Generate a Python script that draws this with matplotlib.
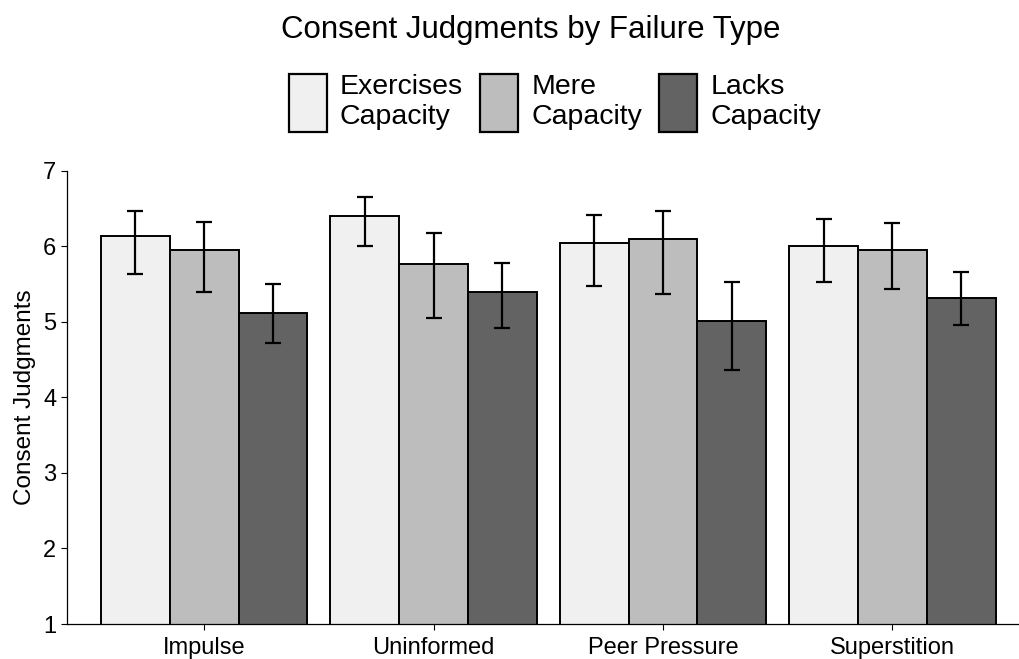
import matplotlib.pyplot as plt
import numpy as np
from matplotlib.patches import Patch

plt.rcParams['font.family'] = ['Liberation Sans', 'DejaVu Sans']

categories = ['Impulse', 'Uninformed', 'Peer Pressure', 'Superstition']
conditions = ['Exercises\nCapacity', 'Mere\nCapacity', 'Lacks\nCapacity']

# mean consent judgments per failure type
exercises = [6.14, 6.40, 6.04, 6.00]
mere = [5.95, 5.77, 6.09, 5.95]
lacks = [5.12, 5.39, 5.01, 5.32]

# confidence interval bounds
exercises_lo = [5.63, 6.00, 5.48, 5.53]
exercises_hi = [6.47, 6.65, 6.42, 6.36]
mere_lo = [5.40, 5.05, 5.37, 5.44]
mere_hi = [6.32, 6.17, 6.47, 6.31]
lacks_lo = [4.72, 4.92, 4.36, 4.96]
lacks_hi = [5.50, 5.78, 5.53, 5.66]

colours = ['#f0f0f0', '#bdbdbd', '#636363']

means = [exercises, mere, lacks]
lows = [exercises_lo, mere_lo, lacks_lo]
highs = [exercises_hi, mere_hi, lacks_hi]

fig = plt.figure(figsize=(10.2, 6.59), dpi=100)
ax = fig.add_axes([0.0653, 0.0531, 0.9445, 0.6879])

x = np.arange(len(categories))
width = 0.3
for i in range(3):
    pos = x + (i - 1) * width
    m = np.array(means[i])
    err = [m - np.array(lows[i]), np.array(highs[i]) - m]
    ax.bar(pos, m, width=width, color=colours[i], edgecolor='black', linewidth=1.4, zorder=2)
    ax.errorbar(pos, m, yerr=err, fmt='none', ecolor='black', elinewidth=1.6,
                capsize=5.5, capthick=1.6, zorder=3)

ax.set_xlim(-0.6, 3.6)
ax.set_ylim(1, 7)
ax.set_xticks(x)
ax.set_xticklabels(categories, fontsize=17, color='black')
ax.set_yticks(range(1, 8))
ax.tick_params(axis='y', labelsize=17, colors='black', length=4, width=0.8)
ax.tick_params(axis='x', length=4, width=0.8, pad=5)
ax.set_ylabel('Consent Judgments', fontsize=17.5, labelpad=5)

for side in ['top', 'right']:
    ax.spines[side].set_visible(False)
for side in ['left', 'bottom']:
    ax.spines[side].set_linewidth(0.9)

fig.text(531 / 1020, 1 - 30 / 659, 'Consent Judgments by Failure Type',
         ha='center', va='center', fontsize=22.5)

handles = [Patch(facecolor=c, edgecolor='black', linewidth=1.6) for c in colours]
fig.legend(handles, conditions, loc='center', ncol=3, frameon=False,
           bbox_to_anchor=(555 / 1020, 1 - 103 / 659), fontsize=20.5,
           handlelength=1.34, handleheight=2.8, handletextpad=0.46,
           columnspacing=0.6, borderpad=0, labelspacing=0)

fig.savefig('out.png', dpi=100)
